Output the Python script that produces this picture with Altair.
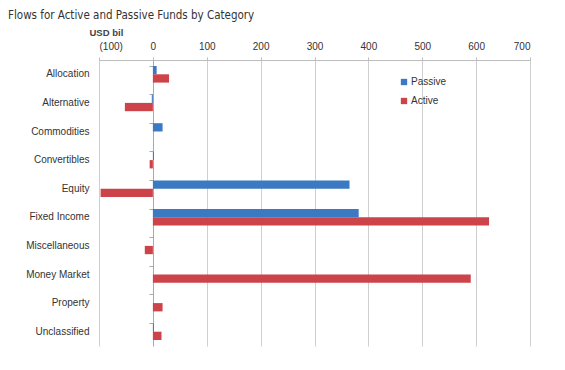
import altair as alt
import pandas as pd

categories = ["Allocation", "Alternative", "Commodities", "Convertibles", "Equity",
              "Fixed Income", "Miscellaneous", "Money Market", "Property", "Unclassified"]
passive = [7, -2, 18, 2, 365, 382, 0, 0, 0, 2]
active = [30, -52, 0, -6, -97, 624, -15, 590, 18, 16]
series = ["Passive", "Active"]
x_ticks = [-100, 0, 100, 200, 300, 400, 500, 600, 700]

rows = []
for c, p, a in zip(categories, passive, active):
    rows.append({"category": c, "series": "Passive", "value": p})
    rows.append({"category": c, "series": "Active", "value": a})
df = pd.DataFrame(rows)

W, H = 431, 286
FONT = "Liberation Sans"

yscale = alt.Scale(domain=categories, paddingInner=0.42, paddingOuter=0.21)
xscale = alt.Scale(domain=[-100, 700], nice=False)

bars = alt.Chart(df).mark_bar().encode(
    y=alt.Y("category:N", scale=yscale, sort=categories,
            axis=alt.Axis(title=None, domain=False, ticks=False, labelPadding=10,
                          labelFont=FONT, labelFontSize=10, labelColor="#333333")),
    x=alt.X("value:Q", scale=xscale,
            axis=alt.Axis(orient="top", values=x_ticks, grid=True, gridColor="#cfcfcf",
                          domainColor="#bdbdbd", tickColor="#bdbdbd", tickSize=3,
                          labelFont=FONT, labelFontSize=10, labelColor="#333333",
                          labelPadding=6,
                          labelExpr="datum.value < 0 ? '(' + format(-datum.value, 'd') + ')' : format(datum.value, 'd')",
                          title="USD bil", titleFont=FONT, titleFontSize=9.5,
                          titleFontWeight="bold", titleColor="#444444",
                          titleAnchor="start", titleAlign="left", titleBaseline="alphabetic",
                          titleX=-10, titleY=-25)),
    yOffset=alt.YOffset("series:N", sort=series, scale=alt.Scale(domain=series)),
    color=alt.Color("series:N", sort=series,
                    scale=alt.Scale(domain=series, range=["#3b79c3", "#cc4349"]),
                    legend=alt.Legend(title=None, orient="none", legendX=300, legendY=17,
                                      symbolType="square", symbolSize=40, rowPadding=9,
                                      labelFont=FONT, labelFontSize=10, labelColor="#333333",
                                      labelOffset=2)),
)

zero_axis = alt.Chart(df).mark_point(opacity=0).encode(
    y=alt.Y("category:N", scale=yscale, sort=categories,
            axis=alt.Axis(orient="left", offset=-54, title=None, labels=False,
                          domain=True, domainColor="#a9a9a9", ticks=True, tickColor="#a9a9a9",
                          tickSize=4, bandPosition=0)),
)

chart = alt.layer(bars, zero_axis).resolve_axis(y="independent").properties(
    width=W, height=H,
    autosize=alt.AutoSizeParams(type="none"),
    padding={"left": 91, "top": 52, "right": 20, "bottom": 16},
    title=alt.TitleParams("Flows for Active and Passive Funds by Category",
                          anchor="start", frame="group", dx=-91, dy=-2,
                          font="DejaVu Sans Condensed, Liberation Sans",
                          fontSize=11.5, fontWeight="normal", color="#333333"),
).configure_view(stroke=None)

chart.save("out.html", embed_options={"renderer": "svg", "actions": False})
